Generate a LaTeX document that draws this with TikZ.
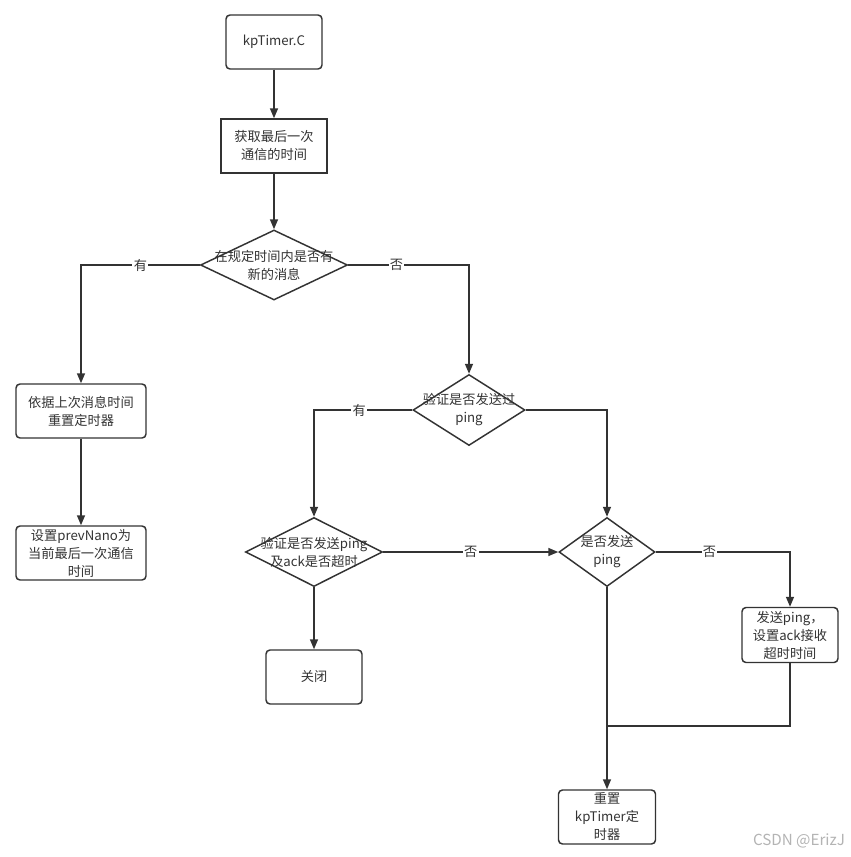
\documentclass[tikz,border=0pt]{standalone}
\usepackage{fontspec}
\setmainfont{Noto Sans CJK SC}
\usetikzlibrary{shapes.geometric,arrows.meta}
\definecolor{ink}{HTML}{333333}
\definecolor{wmc}{HTML}{B4B4B4}
\tikzset{
  px/.style={x=0.75pt,y=-0.75pt},
  txt/.style={font=\fontsize{9.9}{13.5}\selectfont, text=ink, align=center, inner sep=0pt},
  rbox/.style={draw=ink, line width=1.1pt, rounded corners=3pt, inner sep=0pt, txt},
  sbox/.style={draw=ink, line width=1.1pt, inner sep=0pt, txt},
  dia/.style={diamond, draw=ink, line width=1.1pt, inner sep=0pt},
  arr/.style={draw=ink, line width=1.1pt, -{Triangle[length=7.5pt,width=6pt]}},
  ln/.style={draw=ink, line width=1.1pt},
  lbl/.style={txt, fill=white, inner sep=1pt},
}
\begin{document}
\begin{tikzpicture}[px]
\fill[white] (0,0) rectangle (850,857);
\useasboundingbox (0,0) rectangle (850,857);

\node[rbox, minimum width=96*0.75pt, minimum height=54*0.75pt] (k) at (274,42) {kpTimer.C};
\node[sbox, minimum width=106*0.75pt, minimum height=54*0.75pt] (g) at (274,146) {获取最后一次\\通信的时间};

\node[dia, minimum width=147*0.75pt, minimum height=70*0.75pt] (d1) at (274,265) {};
\node[txt] (d1t) at (d1.center) {在规定时间内是否有\\新的消息};

\node[rbox, minimum width=130*0.75pt, minimum height=54*0.75pt] (l1) at (81,411) {依据上次消息时间\\重置定时器};
\node[rbox, minimum width=130*0.75pt, minimum height=54*0.75pt] (l2) at (81,553) {设置prevNano为\\当前最后一次通信\\时间};

\node[dia, minimum width=112*0.75pt, minimum height=71*0.75pt] (d2) at (469,410) {};
\node[txt] (d2t) at (d2.center) {验证是否发送过\\ping};

\node[dia, minimum width=137*0.75pt, minimum height=69*0.75pt] (d3) at (314,552) {};
\node[txt] (d3t) at (d3.center) {验证是否发送ping\\及ack是否超时};

\node[dia, minimum width=96*0.75pt, minimum height=69*0.75pt] (d4) at (607,552) {};
\node[txt] (d4t) at (d4.center) {是否发送\\ping};

\node[rbox, minimum width=96*0.75pt, minimum height=54*0.75pt] (close) at (314,677) {关闭};
\node[rbox, minimum width=96*0.75pt, minimum height=55*0.75pt] (send) at (790,635) {发送ping，\\设置ack接收\\超时时间};
\node[rbox, minimum width=97*0.75pt, minimum height=54*0.75pt] (reset) at (607,817) {重置\\kpTimer定\\时器};

\coordinate (j) at (607,726);

\draw[arr] (k) -- (g);
\draw[arr] (g) -- (d1);
\draw[arr] (d1.west) -| node[lbl, pos=0.25] {有} (l1.north);
\draw[arr] (d1.east) -| node[lbl, pos=0.2] {否} (d2.north);
\draw[arr] (l1) -- (l2);
\draw[arr] (d2.west) -| node[lbl, pos=0.27] {有} (d3.north);
\draw[arr] (d2.east) -| (d4.north);
\draw[arr] (d3.east) -- node[lbl] {否} (d4.west);
\draw[arr] (d3.south) -- (close.north);
\draw[arr] (d4.east) -| node[lbl, pos=0.2] {否} (send.north);
\draw[arr] (d4.south) -- (reset.north);
\draw[ln] (send.south) |- (j);

\node[txt, text=wmc, font=\fontsize{11.4}{12}\selectfont] (wm) at (799,841) {CSDN @ErizJ};
\end{tikzpicture}
\end{document}
